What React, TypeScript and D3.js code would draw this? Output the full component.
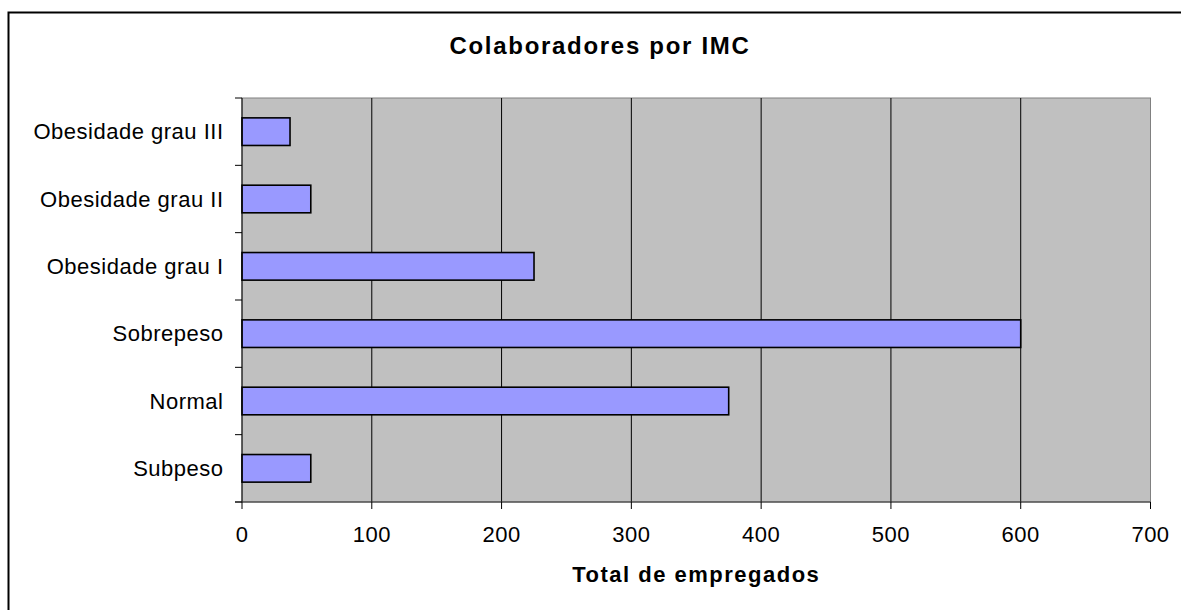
import React from "react";
import * as d3 from "d3";

const categories = [
  "Obesidade grau III",
  "Obesidade grau II",
  "Obesidade grau I",
  "Sobrepeso",
  "Normal",
  "Subpeso",
];
const values = [37, 53, 225, 600, 375, 53];
const xTicks = [0, 100, 200, 300, 400, 500, 600, 700];
const title = "Colaboradores por IMC";
const xTitle = "Total de empregados";

const W = 1181;
const H = 610;
const plot = { left: 242, right: 1150.5, top: 98, bottom: 502 };
const FONT = "'Liberation Sans', Arial, sans-serif";

export default function App() {
  const x = d3.scaleLinear().domain([0, 700]).range([plot.left, plot.right]);
  const y = d3
    .scaleBand<string>()
    .domain(categories)
    .range([plot.top, plot.bottom])
    .paddingInner(0.59)
    .paddingOuter(0.295);
  const step = y.step();
  const bandEdges = d3.range(categories.length + 1).map((i) => plot.top + i * step);

  return (
    <svg
      width={W}
      height={H}
      style={{ position: "absolute", left: 0, top: 0, background: "#fff" }}
      fontFamily={FONT}
    >
      <rect x={8.5} y={12.5} width={1200} height={700} fill="#fff" stroke="#000" strokeWidth={2} />
      <text
        x={600}
        y={53.5}
        textAnchor="middle"
        fontSize={24}
        fontWeight="bold"
        letterSpacing={1.7}
      >
        {title}
      </text>

      <rect
        x={plot.left}
        y={plot.top}
        width={plot.right - plot.left}
        height={plot.bottom - plot.top}
        fill="#C0C0C0"
        stroke="#808080"
        strokeWidth={1}
      />
      {xTicks.slice(1, -1).map((t) => (
        <line key={"g" + t} x1={x(t)} x2={x(t)} y1={plot.top} y2={plot.bottom} stroke="#000" strokeWidth={1} />
      ))}

      {categories.map((c, i) => (
        <rect
          key={c}
          x={x(0)}
          y={y(c)!}
          width={x(values[i]) - x(0)}
          height={y.bandwidth()}
          fill="#9999FF"
          stroke="#000"
          strokeWidth={1.6}
        />
      ))}

      {/* axes */}
      <line x1={plot.left} x2={plot.left} y1={plot.top} y2={plot.bottom} stroke="#000" strokeWidth={1} />
      <line x1={plot.left - 7} x2={plot.right} y1={plot.bottom} y2={plot.bottom} stroke="#333" strokeWidth={1.2} />
      {bandEdges.map((e, i) => (
        <line key={"yt" + i} x1={plot.left - 7} x2={plot.left} y1={e} y2={e} stroke="#000" strokeWidth={1} />
      ))}
      {xTicks.map((t) => (
        <g key={"xt" + t}>
          <line x1={x(t)} x2={x(t)} y1={plot.bottom} y2={plot.bottom + 7} stroke="#000" strokeWidth={1} />
          <text x={x(t)} y={541.5} textAnchor="middle" fontSize={22} letterSpacing={0.5}>
            {t}
          </text>
        </g>
      ))}
      {categories.map((c) => (
        <text
          key={"l" + c}
          x={223.5}
          y={y(c)! + y.bandwidth() / 2 + 7.8}
          textAnchor="end"
          fontSize={22}
          letterSpacing={0.5}
        >
          {c}
        </text>
      ))}
      <text
        x={(plot.left + plot.right) / 2}
        y={582}
        textAnchor="middle"
        fontSize={22}
        fontWeight="bold"
        letterSpacing={1.5}
      >
        {xTitle}
      </text>
    </svg>
  );
}
